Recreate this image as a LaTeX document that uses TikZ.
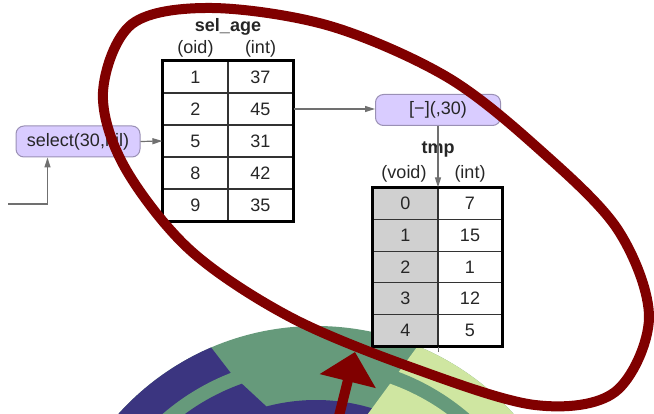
\documentclass[tikz,border=0pt]{standalone}
\usepackage{fontspec}
\setmainfont{Liberation Sans}
\usetikzlibrary{arrows.meta,calc}

\definecolor{ringblue}{HTML}{3B3580}
\definecolor{ringgreen}{HTML}{669A7B}
\definecolor{ringlight}{HTML}{CFE6A1}
\definecolor{markred}{HTML}{800000}
\definecolor{opfill}{HTML}{D9CCFF}
\definecolor{opdraw}{HTML}{9A90B5}
\definecolor{headfill}{HTML}{D0D0D0}
\definecolor{wiregray}{HTML}{707070}

\tikzset{
  txt/.style={font=\fontsize{18}{20}\selectfont, text=black!85, inner sep=0pt},
  tabtitle/.style={txt, font=\fontsize{18}{20}\selectfont\bfseries},
  opbox/.style={txt, draw=opdraw, fill=opfill, rounded corners=8pt, line width=1pt, minimum height=31pt},
  cell/.style={txt, draw=black!80, line width=1.2pt, minimum width=65pt, minimum height=32pt},
  tcell/.style={cell, minimum height=31.6pt},
  keycell/.style={tcell, fill=headfill},
  tabframe/.style={draw=black, line width=3pt},
  wire/.style={draw=wiregray, line width=1.2pt, -{Triangle[length=10pt,width=6pt]}},
  marker/.style={draw=markred, line width=10pt},
}

\begin{document}
\begin{tikzpicture}[x=1pt, y=-1pt]
\useasboundingbox (0,0) rectangle (654,414);
\clip (0,0) rectangle (654,414);

% ---- ring logo in the background ----
\coordinate (C) at (316,592);
\begin{scope}
  \fill[ringgreen] (C) circle (266pt);
  \begin{scope}
    \clip (C) circle (266pt);
    \fill[ringblue] (10,86) -- (430,632) -- (-300,632) -- (-300,86) -- cycle;
    \fill[ringlight] (637,47) -- (153,707) -- (900,707) -- (900,47) -- cycle;
  \end{scope}
  \fill[ringgreen] (C) circle (235pt);
  \begin{scope}
    \clip (C) circle (221pt);
    \fill[ringgreen] (C) circle (221pt);
    \fill[ringblue] (105,257) -- (402,532) -- (-300,532) -- (-300,257) -- cycle;
    \fill[ringblue] (C) circle (192pt);
    \fill[ringlight] (637,47) -- (153,707) -- (900,707) -- (900,47) -- cycle;
  \end{scope}
\end{scope}

% ---- table sel_age ----
\node[tabtitle] (selname) at (228,27) {sel\_age};
\node[txt] (selh1) at (195.5,49) {(oid)};
\node[txt] (selh2) at (260.5,49) {(int)};
\foreach \a/\b [count=\i] in {1/37,2/45,5/31,8/42,9/35} {
  \node[cell] (sa\i) at (195.5,45+32*\i) {\a};
  \node[cell] (sb\i) at (260.5,45+32*\i) {\b};
}
\draw[tabframe] (sa1.north west) rectangle (sb5.south east);

% ---- table tmp ----
\node[tabtitle] (tmpname) at (438,149) {tmp};
\node[txt] (tmph1) at (404,174) {(void)};
\node[txt] (tmph2) at (470,174) {(int)};
\foreach \a/\b [count=\i] in {0/7,1/15,2/1,3/12,4/5} {
  \node[keycell] (ta\i) at (405.5,172.2+31.6*\i) {\a};
  \node[tcell, minimum width=64pt] (tb\i) at (470,172.2+31.6*\i) {\b};
}
\draw[tabframe] (ta1.north west) rectangle (tb5.south east);
\draw[draw=wiregray, line width=1pt] (ta5.south east) -- ++(0,5);

% ---- operators ----
\node[opbox, minimum width=124pt] (sel) at (78,141.5) {select(30,nil)};
\node[opbox, minimum width=125pt] (sub) at (438,110) {[−](,30)};

% ---- connectors ----
\coordinate (src) at (8,204);
\draw[wire] (src) -| ([xshift=32pt]sel.south west);
\draw[wire] (sel.east) -- (sa3.west);
\draw[wire] (sb2.east) -- (sb2.east -| sub.west);
\draw[wire] (sub.south) -- (sub.south |- ta1.north east);

% ---- red highlight ----
\draw[marker] plot[smooth cycle, tension=0.55] coordinates {
  (212,8) (330,26) (447,77) (540,150) (618,230) (649,318)
  (615,392) (535,405) (413,368) (290,317) (190,250) (124,166)
  (103,92) (132,24)};
\coordinate (tail) at (337,424);
\coordinate (tip) at (355,352);
\draw[draw=markred, line width=10pt, -{Triangle[length=30pt,width=56pt]}] (tail) -- (tip);
\end{tikzpicture}
\end{document}
